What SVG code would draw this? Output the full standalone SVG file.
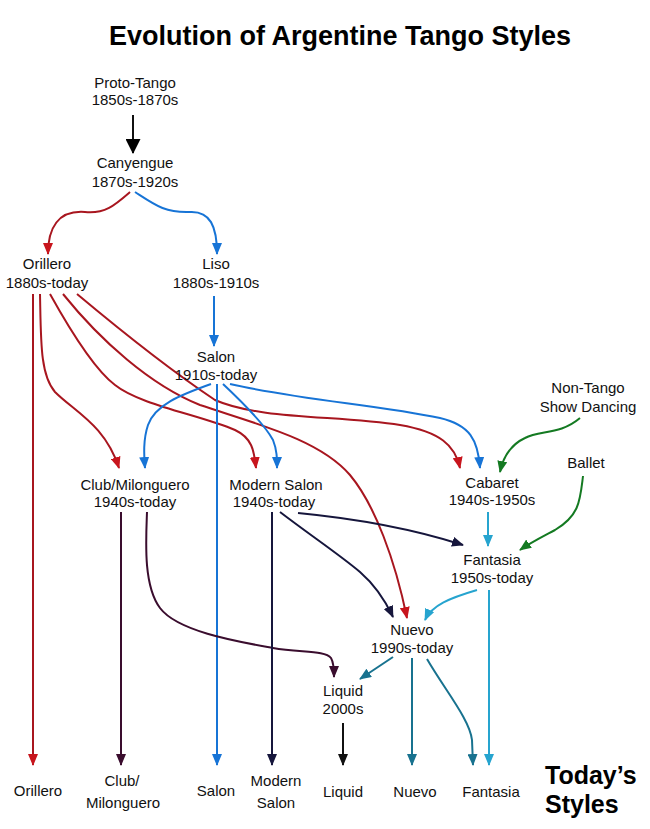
<svg xmlns="http://www.w3.org/2000/svg" width="650" height="829" viewBox="0 0 650 829">
<style>
.t{font-family:"Liberation Sans",Arial,sans-serif;font-size:15px;fill:#111;text-anchor:middle}
.h{font-family:"Liberation Sans",Arial,sans-serif;font-weight:bold;fill:#000}
.c path{fill:none;stroke-width:2}
.red{stroke:#a8161f}
.blue{stroke:#1774d6}
.navy{stroke:#16163c}
.pur{stroke:#3a0d2e}
.teal{stroke:#18728f}
.cyan{stroke:#26a4cf}
.grn{stroke:#147a22}
.blk{stroke:#111}
</style>
<defs>
<marker id="mRed" viewBox="0 0 12 10" markerWidth="12" markerHeight="10" refX="11" refY="5" orient="auto" markerUnits="userSpaceOnUse"><path d="M0,0L12,5L0,10z" fill="#c8151d"/></marker>
<marker id="mBlue" viewBox="0 0 12 10" markerWidth="12" markerHeight="10" refX="11" refY="5" orient="auto" markerUnits="userSpaceOnUse"><path d="M0,0L12,5L0,10z" fill="#1774d6"/></marker>
<marker id="mNavy" viewBox="0 0 12 10" markerWidth="12" markerHeight="10" refX="11" refY="5" orient="auto" markerUnits="userSpaceOnUse"><path d="M0,0L12,5L0,10z" fill="#16163c"/></marker>
<marker id="mPur" viewBox="0 0 12 10" markerWidth="12" markerHeight="10" refX="11" refY="5" orient="auto" markerUnits="userSpaceOnUse"><path d="M0,0L12,5L0,10z" fill="#3a0d2e"/></marker>
<marker id="mTeal" viewBox="0 0 12 10" markerWidth="12" markerHeight="10" refX="11" refY="5" orient="auto" markerUnits="userSpaceOnUse"><path d="M0,0L12,5L0,10z" fill="#18728f"/></marker>
<marker id="mCyan" viewBox="0 0 12 10" markerWidth="12" markerHeight="10" refX="11" refY="5" orient="auto" markerUnits="userSpaceOnUse"><path d="M0,0L12,5L0,10z" fill="#26a4cf"/></marker>
<marker id="mGrn" viewBox="0 0 12 10" markerWidth="12" markerHeight="10" refX="11" refY="5" orient="auto" markerUnits="userSpaceOnUse"><path d="M0,0L12,5L0,10z" fill="#147a22"/></marker>
<marker id="mBlk" viewBox="0 0 12 10" markerWidth="12" markerHeight="10" refX="11" refY="5" orient="auto" markerUnits="userSpaceOnUse"><path d="M0,0L12,5L0,10z" fill="#111"/></marker>
<marker id="mBig" viewBox="0 0 14 14" markerWidth="16" markerHeight="15" refX="13" refY="7" orient="auto" markerUnits="userSpaceOnUse"><path d="M0,0L14,7L0,14z" fill="#000"/></marker>
</defs>

<text class="h" x="340" y="45" font-size="27" text-anchor="middle">Evolution of Argentine Tango Styles</text>

<g id="connectors" class="c">
<path class="blk" d="M133,115V153" stroke-width="2.5" marker-end="url(#mBig)"/>
<path class="red" d="M130,192C115,205 105,214 85,212C58,210 48,228 48,254" marker-end="url(#mRed)"/>
<path class="blue" d="M135,192C155,205 165,213 190,212C210,211 217,226 217,254" marker-end="url(#mBlue)"/>
<path class="red" d="M33,294V765" marker-end="url(#mRed)"/>
<path class="red" d="M40,294C41,340 40,375 55,392C75,412 105,425 119,468" marker-end="url(#mRed)"/>
<path class="red" d="M50,294C70,330 95,370 115,385C140,405 200,415 235,430C252,438 254,450 256,468" marker-end="url(#mRed)"/>
<path class="red" d="M63,294C100,340 150,385 200,405C260,425 320,440 350,475C375,505 395,560 407,618" marker-end="url(#mRed)"/>
<path class="red" d="M77,294C120,330 170,370 215,400C260,420 340,415 400,425C440,432 455,445 460,468" marker-end="url(#mRed)"/>
<path class="blue" d="M214,296V346" marker-end="url(#mBlue)"/>
<path class="blue" d="M217,384V765" marker-end="url(#mBlue)"/>
<path class="blue" d="M211,384C180,395 155,405 148,425C143,440 144,455 145,468" marker-end="url(#mBlue)"/>
<path class="blue" d="M223,384C240,400 265,425 273,440C277,450 277,458 277,468" marker-end="url(#mBlue)"/>
<path class="blue" d="M230,384C300,400 380,405 440,418C470,425 478,440 480,468" marker-end="url(#mBlue)"/>
<path class="pur" d="M121,512V765" marker-end="url(#mPur)"/>
<path class="pur" d="M147,512C146,540 143,585 160,608C178,632 240,642 273,648C300,653 325,650 331,658C334,663 334,670 334,677" marker-end="url(#mPur)"/>
<path class="navy" d="M272,512V765" marker-end="url(#mNavy)"/>
<path class="navy" d="M280,512C310,535 340,555 360,572C375,585 385,600 393,617" marker-end="url(#mNavy)"/>
<path class="navy" d="M298,513C350,518 410,528 463,545" marker-end="url(#mNavy)"/>
<path class="cyan" d="M488,512V546" marker-end="url(#mCyan)"/>
<path class="cyan" d="M489,590V765" marker-end="url(#mCyan)"/>
<path class="cyan" d="M477,590C450,598 432,605 425,620" marker-end="url(#mCyan)"/>
<path class="teal" d="M393,657L360,679" marker-end="url(#mTeal)"/>
<path class="teal" d="M412,658V765" marker-end="url(#mTeal)"/>
<path class="teal" d="M427,659C445,690 470,720 472,740L473,765" marker-end="url(#mTeal)"/>
<path class="grn" d="M580,418C560,435 540,430 525,438C510,445 503,458 500,472" marker-end="url(#mGrn)"/>
<path class="grn" d="M583,476C580,500 580,515 555,530C540,538 530,543 520,550" marker-end="url(#mGrn)"/>
<path class="blk" d="M343,723V765" marker-end="url(#mBlk)"/>
</g>

<g id="proto-tango"><text class="t" x="135" y="88">Proto-Tango</text><text class="t" x="135" y="105">1850s-1870s</text></g>
<g id="canyengue"><text class="t" x="135" y="168">Canyengue</text><text class="t" x="135" y="187">1870s-1920s</text></g>
<g id="orillero"><text class="t" x="47" y="269">Orillero</text><text class="t" x="47" y="288">1880s-today</text></g>
<g id="liso"><text class="t" x="216" y="269">Liso</text><text class="t" x="216" y="288">1880s-1910s</text></g>
<g id="salon"><text class="t" x="216" y="362">Salon</text><text class="t" x="216" y="380">1910s-today</text></g>
<g id="club-milonguero"><text class="t" x="135" y="490">Club/Milonguero</text><text class="t" x="135" y="507">1940s-today</text></g>
<g id="modern-salon"><text class="t" x="276" y="490">Modern Salon</text><text class="t" x="274" y="507">1940s-today</text></g>
<g id="cabaret"><text class="t" x="492" y="488">Cabaret</text><text class="t" x="492" y="505">1940s-1950s</text></g>
<g id="non-tango"><text class="t" x="588" y="393">Non-Tango</text><text class="t" x="588" y="412">Show Dancing</text></g>
<g id="ballet"><text class="t" x="586" y="468">Ballet</text></g>
<g id="fantasia"><text class="t" x="492" y="565">Fantasia</text><text class="t" x="492" y="583">1950s-today</text></g>
<g id="nuevo"><text class="t" x="412" y="635">Nuevo</text><text class="t" x="412" y="653">1990s-today</text></g>
<g id="liquid"><text class="t" x="343" y="696">Liquid</text><text class="t" x="343" y="714">2000s</text></g>

<g id="today-orillero"><text class="t" x="38" y="796">Orillero</text></g>
<g id="today-club"><text class="t" x="122" y="786">Club/</text><text class="t" x="123" y="808">Milonguero</text></g>
<g id="today-salon"><text class="t" x="216" y="796">Salon</text></g>
<g id="today-modern-salon"><text class="t" x="276" y="786">Modern</text><text class="t" x="276" y="808">Salon</text></g>
<g id="today-liquid"><text class="t" x="343" y="797">Liquid</text></g>
<g id="today-nuevo"><text class="t" x="415" y="797">Nuevo</text></g>
<g id="today-fantasia"><text class="t" x="491" y="797">Fantasia</text></g>
<g id="todays-styles"><text class="h" x="545" y="784" font-size="25">Today’s</text><text class="h" x="545" y="813" font-size="25">Styles</text></g>
</svg>
